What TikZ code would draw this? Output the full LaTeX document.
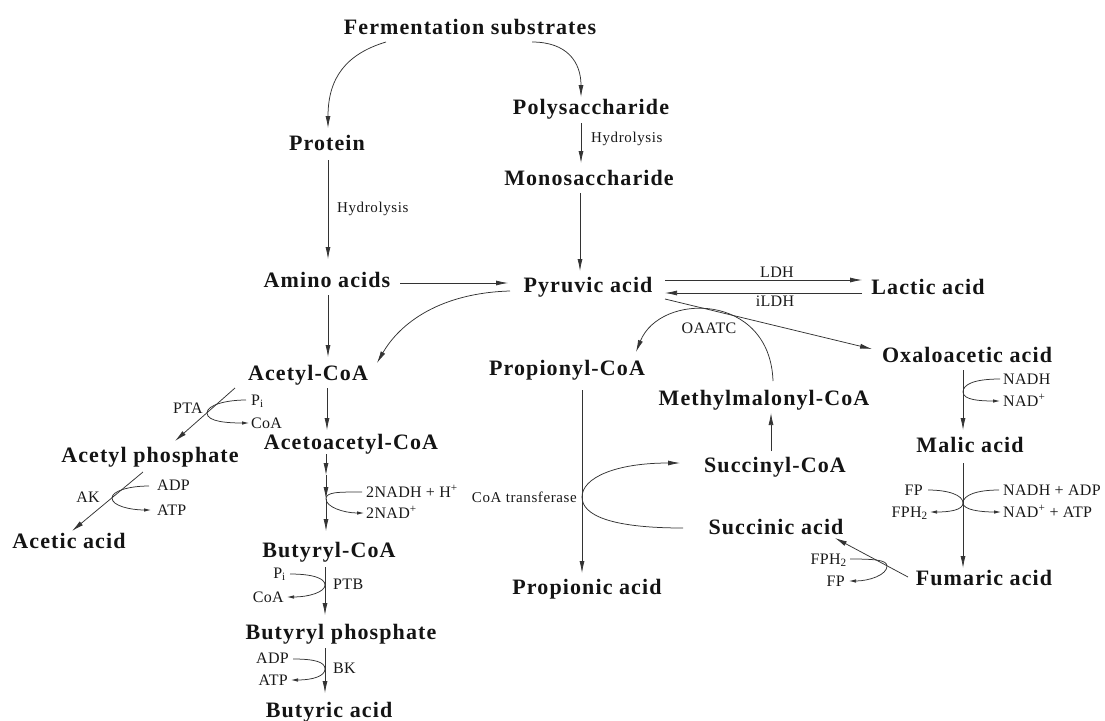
\documentclass[tikz,border=0pt]{standalone}
\usepackage{fontspec}
\setmainfont{Liberation Serif}
\newfontfamily\chemfont[LetterSpace=5]{Liberation Serif}
\newfontfamily\labfont[LetterSpace=2]{Liberation Serif}
\newfontfamily\steplabfont[LetterSpace=4]{Liberation Serif}
\usetikzlibrary{arrows.meta,calc}

\tikzset{
  chem/.style={font=\chemfont\bfseries\fontsize{22}{24}\selectfont, inner sep=0pt,
               text height=16.5pt, text depth=2pt, text=black!92},
  lab/.style={font=\labfont\fontsize{16}{18}\selectfont, inner sep=0pt,
              text height=10.6pt, text depth=0pt, text=black!90},
  labs/.style={lab, font=\steplabfont\fontsize{15}{17}\selectfont, text height=10pt},
  link/.style={draw=black!80, line width=0.75pt},
  arr/.style={link, -{Latex[length=12pt,width=5pt]}},
  sarr/.style={link, -{Latex[length=7pt,width=3.5pt]}},
}

\begin{document}
\begin{tikzpicture}[x=1pt,y=-1pt]
\fill[white] (0,0) rectangle (1105,720);
\useasboundingbox (0,0) rectangle (1105,720);

% metabolites
\node[chem] (fs) at (470,27) {Fermentation substrates};
\node[chem] (poly) at (591,107) {Polysaccharide};
\node[chem] (prot) at (327,143) {Protein};
\node[chem] (mono) at (589,178) {Monosaccharide};
\node[chem] (amino) at (327,280) {Amino acids};
\node[chem] (pyr) at (588,285) {Pyruvic acid};
\node[chem] (lactic) at (928,287) {Lactic acid};
\node[chem] (oxalo) at (967,355) {Oxaloacetic acid};
\node[chem] (propcoa) at (567,368) {Propionyl-CoA};
\node[chem] (acetylcoa) at (308,373) {Acetyl-CoA};
\node[chem] (methyl) at (764,398) {Methylmalonyl-CoA};
\node[chem] (acetoacetyl) at (351,442) {Acetoacetyl-CoA};
\node[chem] (malic) at (970,445) {Malic acid};
\node[chem] (acetylp) at (150,455) {Acetyl phosphate};
\node[chem] (succcoa) at (775,465) {Succinyl-CoA};
\node[chem] (succinic) at (776,527) {Succinic acid};
\node[chem] (acetic) at (69,541) {Acetic acid};
\node[chem] (butcoa) at (329,550) {Butyryl-CoA};
\node[chem] (fumaric) at (984,578) {Fumaric acid};
\node[chem] (propionic) at (587,587) {Propionic acid};
\node[chem] (butp) at (341,632) {Butyryl phosphate};
\node[chem] (butyric) at (329,710) {Butyric acid};

% enzymes, steps and cofactors
\node[labs,anchor=west] (hyd1) at (591,137) {Hydrolysis};
\node[labs,anchor=west] (hyd2) at (337,207) {Hydrolysis};
\node[lab] (ldh) at (777,272) {LDH};
\node[lab] (ildh) at (775,301) {iLDH};
\node[lab] (oaatc) at (709,328) {OAATC};
\node[lab] (pta) at (188,408) {PTA};
\node[lab,anchor=west] (pi1) at (251,400) {P\textsubscript{i}};
\node[lab,anchor=west] (coa1) at (251,423) {CoA};
\node[lab] (ak) at (88,497) {AK};
\node[lab,anchor=west] (adp1) at (157,485) {ADP};
\node[lab,anchor=west] (atp1) at (157,510) {ATP};
\node[lab,anchor=west] (nadh2) at (366,492) {2NADH + H\textsuperscript{+}};
\node[lab,anchor=west] (nad2) at (366,513) {2NAD\textsuperscript{+}};
\node[labs,anchor=east] (cotr) at (577,497) {CoA transferase};
\node[lab,anchor=east] (pi2) at (286,573) {P\textsubscript{i}};
\node[lab,anchor=west] (ptb) at (333,584) {PTB};
\node[lab,anchor=east] (coa2) at (284,597) {CoA};
\node[lab,anchor=east] (adp2) at (289,658) {ADP};
\node[lab,anchor=west] (bk) at (333,668) {BK};
\node[lab,anchor=east] (atp2) at (288,680) {ATP};
\node[lab,anchor=west] (nadh1) at (1003,379) {NADH};
\node[lab,anchor=west] (nad1) at (1003,401) {NAD\textsuperscript{+}};
\node[lab,anchor=east] (fp1) at (923,490) {FP};
\node[lab,anchor=east] (fph1) at (928,512) {FPH\textsubscript{2}};
\node[lab,anchor=west] (nadhadp) at (1003,490) {NADH + ADP};
\node[lab,anchor=west] (nadatp) at (1003,512) {NAD\textsuperscript{+} + ATP};
\node[lab,anchor=east] (fph2) at (847,559) {FPH\textsubscript{2}};
\node[lab,anchor=east] (fp2) at (845,581) {FP};

% branch points where cofactor loops meet the main arrows
\coordinate (ct) at ($(propcoa)+(15,129)$);
\coordinate (j1) at ($(oxalo)+(-4,37)$);
\coordinate (j2) at ($(malic)+(-7,58)$);
\coordinate (j3) at ($(fumaric)+(-97,-12)$);
\coordinate (j4) at ($(acetylcoa)+(-101,40)$);
\coordinate (j5) at ($(acetylp)+(-38,43)$);
\coordinate (b1) at ($(acetoacetyl)+(-25,33)$);
\coordinate (b2) at ($(acetoacetyl)+(-25,57)$);
\coordinate (j6) at ($(butcoa)+(-4,35)$);
\coordinate (j7) at ($(butp)+(-16,37)$);

% substrates to monomers
\draw[arr] ($(fs)+(-84,15)$) .. controls +(-40,12) and +(0,-50) .. ($(prot)+(1,-15)$);
\draw[arr] ($(fs)+(62,15)$) .. controls +(35,0) and +(0,-35) .. ($(poly)+(-10,-10)$);
\draw[arr] ($(poly)+(-10,16)$) -- ($(mono)+(-8,-15)$);
\draw[arr] ($(prot)+(1,17)$) -- ($(amino)+(1,-21)$);
\draw[arr] ($(mono)+(-9,15)$) -- ($(pyr)+(-8,-14)$);
\draw[arr] ($(amino)+(73,3)$) -- ($(pyr)+(-80,-2)$);

% pyruvate branches
\draw[arr] ($(pyr)+(-78,6)$) .. controls +(-70,2) and +(23,-40) .. ($(acetylcoa)+(69,-10)$);
\draw[arr] ($(pyr)+(77,-5)$) -- ($(lactic)+(-66,-7)$);
\draw[arr] ($(lactic)+(-66,6)$) -- ($(pyr)+(77,8)$);
\draw[arr] ($(pyr)+(77,14)$) -- ($(oxalo)+(-95,-6)$);

% propionate route
\draw[arr] ($(methyl)+(9,-17)$) .. controls +(-3,-89) and +(24,-60) .. ($(propcoa)+(69,-16)$);
\draw[arr] ($(succcoa)+(-4,-14)$) -- ($(methyl)+(7,15)$);
\draw[arr] ($(propcoa)+(15,22)$) -- ($(propionic)+(-5,-14)$);
\draw[arr] ($(succinic)+(-93,1)$) .. controls +(-73,0) and +(0,18) .. (ct)
           .. controls +(0,-19) and +(-65,0) .. ($(succcoa)+(-95,-2)$);

% succinate route
\draw[arr] ($(oxalo)+(-4,15)$) -- ($(malic)+(-7,-15)$);
\draw[link] ($(nadh1.west)+(-3,0)$) .. controls +(-25,0) and +(0,-8) .. (j1);
\draw[sarr] (j1) .. controls +(0,8) and +(-20,0) .. ($(nad1.west)+(-3,0)$);
\draw[arr] ($(malic)+(-7,18)$) -- ($(fumaric)+(-21,-10)$);
\draw[link] ($(fp1.east)+(5,0)$) .. controls +(20,0) and +(0,-8) .. (j2);
\draw[sarr] (j2) .. controls +(0,7) and +(20,0) .. ($(fph1.east)+(2,0)$);
\draw[link] ($(nadhadp.west)+(-4,0)$) .. controls +(-22,0) and +(0,-8) .. (j2);
\draw[sarr] (j2) .. controls +(0,7) and +(-20,0) .. ($(nadatp.west)+(-2,0)$);
\draw[arr] ($(fumaric)+(-76,-1)$) -- ($(succinic)+(59,11)$);
\draw[link] ($(fph2.east)+(3,0)$) .. controls +(25,0) and +(0,-6) .. (j3);
\draw[sarr] (j3) .. controls +(0,9) and +(20,0) .. ($(fp2.east)+(4,0)$);

% acetate route
\draw[arr] ($(amino)+(1,15)$) -- ($(acetylcoa)+(20,-16)$);
\draw[arr] ($(acetylcoa)+(-73,15)$) -- ($(acetylp)+(25,-14)$);
\draw[link] ($(pi1.west)+(-5,0)$) .. controls +(-20,0) and +(0,-8) .. (j4);
\draw[sarr] (j4) .. controls +(0,9) and +(-20,0) .. ($(coa1.west)+(-2,0)$);
\draw[arr] ($(acetylp)+(-7,17)$) -- ($(acetic)+(3,-10)$);
\draw[link] ($(adp1.west)+(-8,1)$) .. controls +(-20,0) and +(0,-7) .. (j5);
\draw[sarr] (j5) .. controls +(0,8) and +(-20,0) .. ($(atp1.west)+(-6,0)$);

% butyrate route
\draw[arr] ($(acetylcoa)+(19,15)$) -- ($(acetoacetyl)+(-24,-12)$);
\draw[arr] ($(acetoacetyl)+(-25,12)$) -- (b1);
\draw[arr] (b1) -- (b2);
\draw[arr] (b2) -- ($(butcoa)+(-3,-19)$);
\draw[link] ($(nadh2.west)+(-4,0)$) .. controls +(-25,0) and +(0,-7) .. (b2);
\draw[sarr] (b2) .. controls +(0,8) and +(-20,0) .. ($(nad2.west)+(-2,0)$);
\draw[arr] ($(butcoa)+(-4,17)$) -- ($(butp)+(-16,-17)$);
\draw[link] ($(pi2.east)+(4,1)$) .. controls +(22,0) and +(0,-7) .. (j6);
\draw[sarr] (j6) .. controls +(0,7) and +(22,0) .. ($(coa2.east)+(3,0)$);
\draw[arr] ($(butp)+(-16,16)$) -- ($(butyric)+(-4,-17)$);
\draw[link] ($(adp2.east)+(4,1)$) .. controls +(22,0) and +(0,-7) .. (j7);
\draw[sarr] (j7) .. controls +(0,7) and +(22,0) .. ($(atp2.east)+(3,0)$);
\end{tikzpicture}
\end{document}
